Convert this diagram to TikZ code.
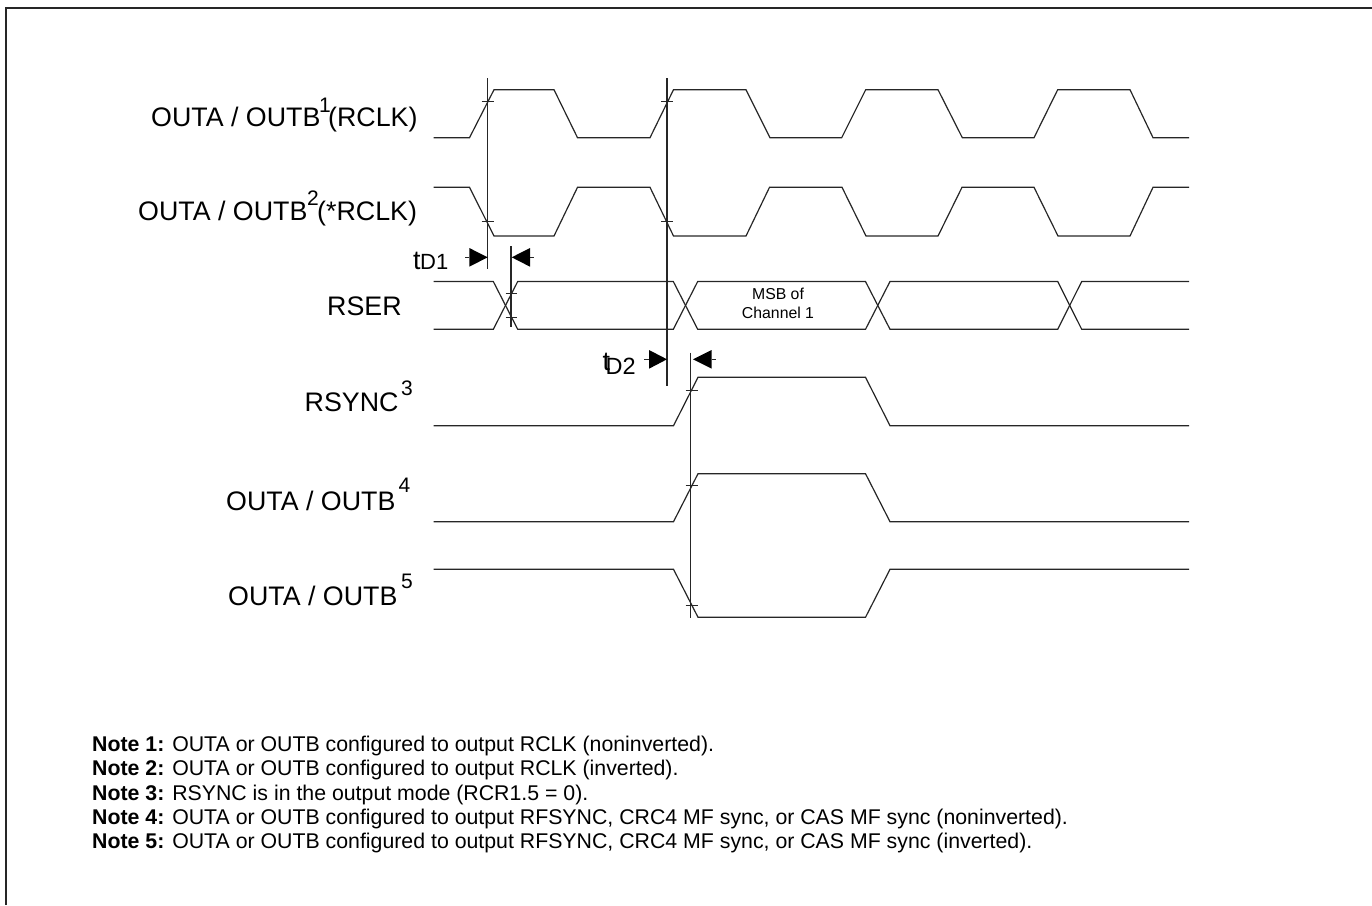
\documentclass[tikz,border=0pt]{standalone}
\usepackage{fontspec}
\setmainfont{Liberation Sans}
\tikzset{
  wave/.style={draw=black!85,line width=1.2pt,line join=miter},
  guide/.style={draw=black!85,line width=1.2pt},
  tickmark/.style={draw=black!85,line width=0.9pt},
  head/.style={fill=black,draw=none},
  frameline/.style={draw=black!85,line width=2pt},
  biglabel/.style={anchor=base west,inner sep=0pt,font=\fontsize{26.8}{30}\selectfont},
  suplabel/.style={anchor=base west,inner sep=0pt,font=\fontsize{21}{24}\selectfont},
  sublabel/.style={anchor=base west,inner sep=0pt,font=\fontsize{22}{24}\selectfont},
  subtwolabel/.style={anchor=base west,inner sep=0pt,font=\fontsize{23.5}{26}\selectfont},
  msblabel/.style={anchor=base,inner sep=0pt,font=\fontsize{15.8}{18}\selectfont},
  notelabel/.style={anchor=base west,inner sep=0pt,font=\fontsize{21.3}{24}\selectfont}
}
\begin{document}
\begin{tikzpicture}[x=1pt,y=-1pt]
\useasboundingbox (0,0) rectangle (1372,905);
\draw[frameline] (5.7,905) -- (5.7,8.3) -- (1372,8.3);
% row 1
\draw[wave] (433.5,137.7) -- (469.5,137.7) -- (494,89.7) -- (554,89.7) -- (577.5,137.7) -- (650,137.7) -- (673.5,89.7) -- (746,89.7) -- (770,137.7) -- (841.7,137.7) -- (865.7,89.7) -- (938,89.7) -- (962.3,137.7) -- (1034,137.7) -- (1057.7,89.7) -- (1130,89.7) -- (1153,137.7) -- (1189,137.7);
% row 2
\draw[wave] (433.5,187.3) -- (469.5,187.3) -- (494,236) -- (554,236) -- (577.5,187.3) -- (650,187.3) -- (673.5,236) -- (746,236) -- (769.5,187.3) -- (842,187.3) -- (866,236) -- (938,236) -- (962,187.3) -- (1034,187.3) -- (1058,236) -- (1130,236) -- (1153,187.3) -- (1189,187.3);
% RSER
\draw[wave] (433.5,281.5) -- (493.3,281.5) -- (517.7,329.3) -- (673.3,329.3) -- (697.7,281.5) -- (865.5,281.5) -- (890,329.3) -- (1057.7,329.3) -- (1081.7,281.5) -- (1189,281.5);
\draw[wave] (433.5,329.3) -- (493.3,329.3) -- (517.7,281.5) -- (673.3,281.5) -- (697.7,329.3) -- (865.5,329.3) -- (890,281.5) -- (1057.7,281.5) -- (1081.7,329.3) -- (1189,329.3);
% RSYNC, 4, 5
\draw[wave] (433.5,425.7) -- (673.5,425.7) -- (698,377.3) -- (865.5,377.3) -- (890,425.7) -- (1189,425.7);
\draw[wave] (433.5,521.7) -- (673.5,521.7) -- (698,473.7) -- (865.5,473.7) -- (890,521.7) -- (1189,521.7);
\draw[wave] (433.5,569.3) -- (673.5,569.3) -- (698,617.3) -- (865.5,617.3) -- (890,569.3) -- (1189,569.3);
% guides
\draw[guide] (487.7,78) -- (487.7,269);
\draw[guide] (511,246) -- (511,326.7);
\draw[guide] (667,78) -- (667,385.7);
\draw[guide] (690.7,352.7) -- (690.7,618);
% ticks
\draw[tickmark] (481.7,101.7) -- (494,101.7);
\draw[tickmark] (481.7,221.3) -- (494,221.3);
\draw[tickmark] (661,101.7) -- (673,101.7);
\draw[tickmark] (661,221.3) -- (673,221.3);
\draw[tickmark] (505.7,293.3) -- (517.3,293.3);
\draw[tickmark] (505.7,317.3) -- (517.3,317.3);
\draw[tickmark] (685.7,390) -- (698,390);
\draw[tickmark] (685.7,485.7) -- (698,485.7);
\draw[tickmark] (685.7,605.7) -- (698,605.7);
% arrows
\draw[tickmark] (465,257.3) -- (469.3,257.3);
\fill[head] (469.3,248) -- (487.7,257.3) -- (469.3,266.7) -- cycle;
\draw[tickmark] (530,257.3) -- (534,257.3);
\fill[head] (530,248) -- (511.7,257.3) -- (530,266.7) -- cycle;
\draw[tickmark] (644,359.3) -- (649,359.3);
\fill[head] (649,350) -- (667,359.3) -- (649,368.7) -- cycle;
\draw[tickmark] (711.7,359.3) -- (715.7,359.3);
\fill[head] (711.7,350) -- (693,359.3) -- (711.7,368.7) -- cycle;
% labels
\node[biglabel] (l1) at (151,126) {OUTA / OUTB};
\node[suplabel] (s1) at (319,112.3) {1};
\node[biglabel] (l1b) at (328,126) {(RCLK)};
\node[biglabel] (l2) at (138,220) {OUTA / OUTB};
\node[suplabel] (s2) at (307,205) {2};
\node[biglabel] (l2b) at (317,220) {(*RCLK)};
\node[biglabel] (l3) at (327,315) {RSER};
\node[biglabel] (l4) at (304.5,411.7) {RSYNC};
\node[suplabel] (s4) at (401,395.7) {3};
\node[biglabel] (l5) at (226,510) {OUTA / OUTB};
\node[suplabel] (s5) at (398.5,492) {4};
\node[biglabel] (l6) at (228,605.7) {OUTA / OUTB};
\node[suplabel] (s6) at (401,588) {5};
\node[biglabel] (t1) at (413,269) {t};
\node[sublabel] (d1) at (420,269.5) {D1};
\node[biglabel] (t2) at (602.5,370) {t};
\node[subtwolabel] (d2) at (605.5,374) {D2};
\node[msblabel] (m1) at (778,299.5) {MSB of};
\node[msblabel] (m2) at (778,318) {Channel 1};
% notes
\node[notelabel] (n1) at (92,751.7) {\textbf{Note 1:} OUTA or OUTB configured to output RCLK (noninverted).};
\node[notelabel] (n2) at (92,775.9) {\textbf{Note 2:} OUTA or OUTB configured to output RCLK (inverted).};
\node[notelabel] (n3) at (92,800) {\textbf{Note 3:} RSYNC is in the output mode (RCR1.5 = 0).};
\node[notelabel] (n4) at (92,824) {\textbf{Note 4:} OUTA or OUTB configured to output RFSYNC, CRC4 MF sync, or CAS MF sync (noninverted).};
\node[notelabel] (n5) at (92,848) {\textbf{Note 5:} OUTA or OUTB configured to output RFSYNC, CRC4 MF sync, or CAS MF sync (inverted).};
\end{tikzpicture}
\end{document}
